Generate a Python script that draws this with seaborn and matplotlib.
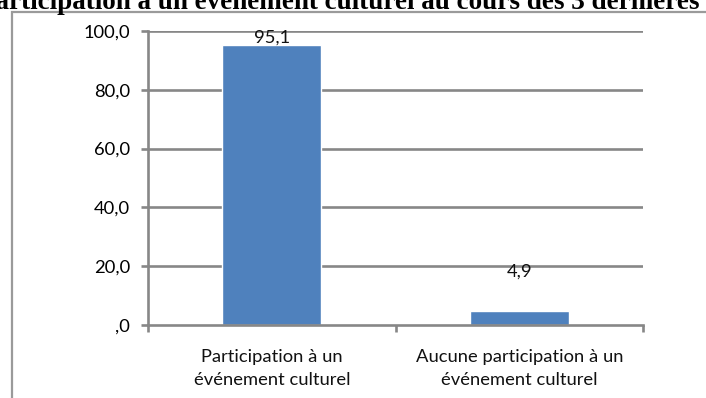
import matplotlib
matplotlib.use("Agg")
import matplotlib.pyplot as plt
import seaborn as sns
import pandas as pd
from matplotlib.patches import Rectangle
from matplotlib.ticker import FuncFormatter

# Data
categories = ["Participation à un\névénement culturel",
              "Aucune participation à un\névénement culturel"]
values = [95.1, 4.9]
value_labels = ["95,1", "4,9"]
label_heights = [97.8, 18.0]
y_ticks = [0, 20, 40, 60, 80, 100]
title = "Participation à un événement culturel au cours des 3 dernières années"

df = pd.DataFrame({"categorie": categories, "pourcentage": values})

sns.set_theme(style="white")
plt.rcParams["font.family"] = ["Lato", "DejaVu Sans"]

W, H = 706, 398
fig = plt.figure(figsize=(W / 100, H / 100), dpi=100)

grid_col = "#878787"
txt_size = 13.2

# Outer chart frame (top and left edges visible)
fig.patches.append(Rectangle((11.5 / W, -0.1), 1.2, (H - 11.5) / H + 0.1,
                             transform=fig.transFigure, fill=False,
                             edgecolor="#9a9a9a", linewidth=1.6, zorder=0))

ax = fig.add_axes([148 / W, 1 - 325 / H, (643 - 148) / W, (325 - 31) / H])
sns.barplot(data=df, x="categorie", y="pourcentage", color="#4F81BD",
            width=0.4, saturation=1, ax=ax, zorder=3)

ax.set_ylim(0, 100)
ax.set_xlim(-0.5, 1.5)
ax.set_yticks(y_ticks)


def fmt(v, pos):
    s = ("%.1f" % v).replace(".", ",")
    return s[1:] if v == 0 else s


ax.yaxis.set_major_formatter(FuncFormatter(fmt))
ax.set_xlabel("")
ax.set_ylabel("")

for y in y_ticks[1:]:
    ax.axhline(y, color=grid_col, linewidth=1.9, zorder=1)

for s in ["top", "right"]:
    ax.spines[s].set_visible(False)
for s in ["left", "bottom"]:
    ax.spines[s].set_color(grid_col)
    ax.spines[s].set_linewidth(1.9)
    ax.spines[s].set_zorder(4)

ax.tick_params(axis="y", which="major", length=5, width=1.9, color=grid_col,
               labelsize=txt_size, pad=8, labelcolor="black", left=True)
ax.set_xticks([-0.5, 0.5, 1.5], minor=False)
ax.set_xticklabels(["", "", ""])
ax.tick_params(axis="x", which="major", length=5, width=1.9, color=grid_col,
               bottom=True, direction="out")
ax.set_xticks([0, 1], minor=True)
ax.set_xticklabels(categories, minor=True)
ax.tick_params(axis="x", which="minor", length=0, labelsize=txt_size, pad=17,
               labelcolor="#111111")
for t in ax.get_xticklabels(minor=True):
    t.set_linespacing(1.6)

for i, (lab, yh) in enumerate(zip(value_labels, label_heights)):
    ax.text(i, yh, lab, ha="center", va="center", fontsize=txt_size,
            color="#111111", zorder=5)

fig.text(-21 / W, 1 - 9 / H, title, ha="left", va="baseline",
         family="Liberation Serif", weight="bold", fontsize=19.5, color="black")

fig.savefig("out.png", dpi=100)
